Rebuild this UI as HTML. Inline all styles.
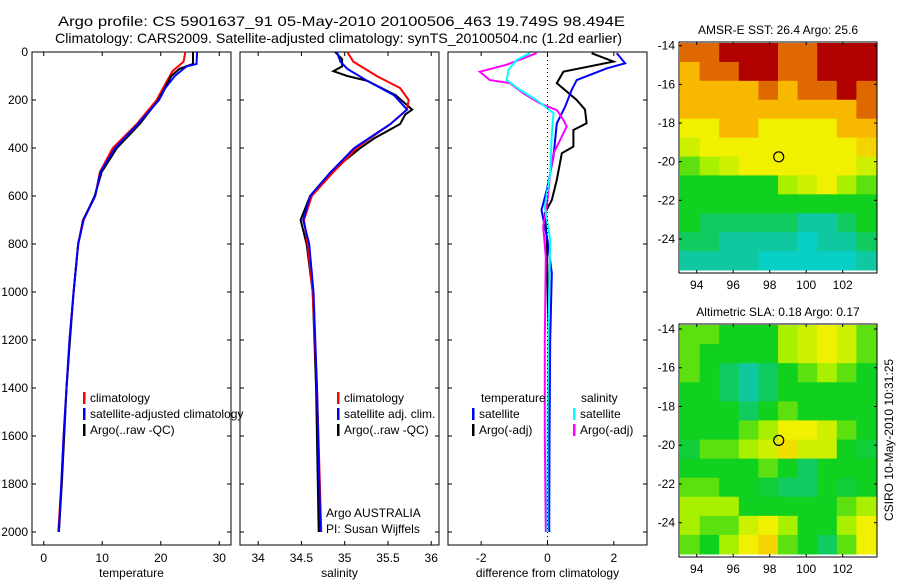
<!DOCTYPE html>
<html><head><meta charset="utf-8"><style>
body{margin:0;background:#fff;}
svg{display:block;font-family:"Liberation Sans",sans-serif;}
text{fill:#000;}
</style></head><body>
<svg id="fig" width="900" height="580" viewBox="0 0 900 580">
<text x="58" y="26" font-size="14" textLength="567" lengthAdjust="spacingAndGlyphs">Argo profile: CS 5901637_91 05-May-2010 20100506_463 19.749S 98.494E</text>
<text x="55" y="43" font-size="14" textLength="567" lengthAdjust="spacingAndGlyphs">Climatology: CARS2009. Satellite-adjusted climatology: synTS_20100504.nc (1.2d earlier)</text>
<g id="g"></g>
</svg>
<script>
// ---------- Data ----------
const depthTicks=[0,200,400,600,800,1000,1200,1400,1600,1800,2000];
const tempTicks=[0,10,20,30];
const salTicks=[34,34.5,35,35.5,36];
const diffTicks=[-2,0,2];
const lonTicks=[94,96,98,100,102];
const latTicks=[-14,-16,-18,-20,-22,-24];

const tClimDepth=[0,40,80,150,200,300,400,500,600,700,800,1000,1200,1400,1600,1800,2000];
const tClimVal=[24.2,23.9,22,20.4,19.3,15.9,11.8,9.6,8.8,6.7,5.9,5.1,4.4,3.9,3.4,3.0,2.5];
const tSatDepth=[0,50,60,100,150,200,300,400,500,600,700,800,1000,1200,1400,1600,1800,2000];
const tSatVal=[26.2,26.1,24.4,22.4,20.8,19.7,16.1,12.2,9.7,8.8,6.8,5.9,5.1,4.4,3.9,3.4,3.0,2.6];
const tArgoDepth=[0,50,70,100,200,300,400,500,600,700,800,1000,1200,1400,1600,1800,2000];
const tArgoVal=[25.5,25.5,23.2,21.8,19.6,16.4,12.5,9.9,8.7,6.8,5.9,5.1,4.5,3.9,3.5,3.1,2.6];

const sClimDepth=[0,40,100,150,200,240,300,350,400,500,600,700,800,1000,1400,2000];
const sClimVal=[35.03,35.10,35.37,35.64,35.74,35.72,35.53,35.33,35.14,34.87,34.62,34.53,34.57,34.63,34.68,34.73];
const sSatDepth=[0,40,70,120,180,240,300,400,500,600,700,800,1000,1400,2000];
const sSatVal=[34.91,34.95,35.03,35.26,35.57,35.72,35.53,35.11,34.84,34.60,34.52,34.59,34.64,34.68,34.72];
const sArgoDepth=[0,30,60,80,100,120,180,240,260,300,360,400,500,600,700,800,1000,1400,2000];
const sArgoVal=[34.89,34.97,34.97,34.87,35.03,35.26,35.59,35.78,35.70,35.64,35.34,35.18,34.84,34.60,34.49,34.56,34.63,34.67,34.70];

const dTSatDepth=[5,47,68,117,158,228,297,436,575,658,783,922,1200,1600,2000];
const dTSatVal=[2.09,2.34,1.79,0.88,0.73,0.53,0.28,0.18,-0.02,-0.18,0,0.13,0.08,0.06,0.05];
const dTArgoDepth=[5,40,82,130,200,240,297,325,394,422,533,617,672,783,1200,1600,2000];
const dTArgoVal=[1.33,1.99,0.48,0.28,0.88,1.13,1.18,0.78,0.78,0.43,0.28,0.13,-0.08,-0.02,0.03,0.03,0.03];
const dSArgoDepth=[5,53,82,117,130,172,214,242,283,311,367,422,505,644,728,853,1200,1600,2000];
const dSArgoVal=[-0.33,-1.23,-2.04,-1.74,-1.13,-0.73,-0.23,0.28,0.48,0.58,0.38,0.18,0.08,-0.02,-0.13,-0.05,-0.08,-0.08,-0.05];
const dSSatDepth=[5,33,75,117,158,200,255,339,505,644,783,1200,1600,2000];
const dSSatVal=[-0.53,-0.93,-1.18,-1.23,-0.83,-0.33,0.18,0.13,0.08,-0.08,0.08,0.02,0.0,0.0];

// map values on colour index scale 0(cyan)..7(dark red)
const sstGrid=[
[6,6,7,7,7,6,6,7,7,7],
[5,6,6,7,7,6,6,7,7,7],
[5,5,5,5,6,5,6,6,7,6],
[5,5,5,5,5,5,5,5,5,6],
[4,4,5,5,4,4,4,4,5,5],
[3.5,4,4,4,4,4,4,4,4,4.5],
[2.5,3,3.5,4,4,4,4,4,4,3.5],
[2,2,2,2,2,3,3.5,4,3,2.5],
[2,2,2,2,2,2,2,2,2,2],
[2,1.5,1.5,1.5,1.5,1.5,1,1,1.5,2],
[1.5,1.5,1,1,1,1,0.5,1,1,1.5],
[1,1,1,1,0.5,0.5,0.5,0.5,0.5,1]];
const slaGrid=[
[2.5,2.5,2,2,2,3,3.5,4,3.5,2.5],
[2.5,2,2,2,2,3,3.5,4,3.5,2.5],
[2.5,2,1.5,1,1.5,2,2.5,3,2.5,2],
[2,2,1.5,1,1.5,2,2,2,2,2],
[2,2,2,1.5,2,2.5,2,2,2,2],
[2,2,2,2.5,3,4,4,3.5,2.5,2],
[1.8,2.5,2.5,3,3.5,4.3,3.5,3.5,2,1.8],
[2,2,2,2,2.5,2,1.5,2,2,2],
[2.5,2.5,2,2,1.8,1.5,1.5,2,1.8,2],
[3,3,3,2,2,2,2,2,2.5,3],
[3,2.5,2.5,3.5,4,3,2,2,3,4],
[2.5,2,3,4,4.5,2.5,2,1.5,2.5,4]];
const argoLon=98.494, argoLat=-19.749;

// ---------- Drawing ----------
const NS='http://www.w3.org/2000/svg';
const G=document.getElementById('g');
function mk(tag,attrs,parent){const e=document.createElementNS(NS,tag);for(const k in attrs)e.setAttribute(k,attrs[k]);(parent||G).appendChild(e);return e;}
function txt(x,y,s,size,anchor,parent){const t=mk('text',{x:x,y:y,'font-size':size||12,'text-anchor':anchor||'start'},parent);t.textContent=s;return t;}

const yTop=52,yBot=545;
function yD(d){return 52+d*0.24;}
const panels=[
 {name:'temperature',x0:32,x1:231,lo:-2,hi:32,ticks:tempTicks,label:'temperature'},
 {name:'salinity',x0:240,x1:439,lo:33.79,hi:36.09,ticks:salTicks,label:'salinity'},
 {name:'difference',x0:448,x1:647,lo:-3,hi:3,ticks:diffTicks,label:'difference from climatology'}];
function xf(p){return v=>p.x0+(v-p.lo)/(p.hi-p.lo)*(p.x1-p.x0);}

panels.forEach((p,i)=>{
  const g=mk('g',{});
  
  
  const fr=mk('rect',{x:p.x0,y:yTop,width:p.x1-p.x0,height:yBot-yTop,fill:'none',stroke:'#000','stroke-width':1},g);
  
  
  const X=xf(p);
  p.ticks.forEach(t=>{
    const x=X(t);
    mk('line',{x1:x,y1:yTop,x2:x,y2:yTop+4,stroke:'#000'},g);
    mk('line',{x1:x,y1:yBot,x2:x,y2:yBot-4,stroke:'#000'},g);
    const tl=txt(x,562,String(t),12,'middle',g);
    
    
  });
  depthTicks.forEach(d=>{
    const y=yD(d);
    mk('line',{x1:p.x0,y1:y,x2:p.x0+4,y2:y,stroke:'#000'},g);
    mk('line',{x1:p.x1,y1:y,x2:p.x1-4,y2:y,stroke:'#000'},g);
    if(i===0){const tl=txt(28,y+4,String(d),12,'end',g);
      
      }
  });
  const xl=txt((p.x0+p.x1)/2,577,p.label,12,'middle',g);
  
  
  p.X=X;p.g=g;
});

function profile(p,depths,vals,color,name){
  const pts=depths.map((d,k)=>p.X(vals[k]).toFixed(1)+','+yD(d).toFixed(1)).join(' ');
  const l=mk('polyline',{points:pts,fill:'none',stroke:color,'stroke-width':2},p.g);
  
  
}
const zx=panels[2].X(0);
const zl=mk('line',{x1:zx,y1:yTop,x2:zx,y2:yBot,stroke:'#000','stroke-dasharray':'1,3'});



profile(panels[0],tClimDepth,tClimVal,'#f00','temperature-climatology-line');
profile(panels[0],tArgoDepth,tArgoVal,'#000','temperature-argo-line');
profile(panels[0],tSatDepth,tSatVal,'#00f','temperature-satellite-line');
profile(panels[1],sArgoDepth,sArgoVal,'#000','salinity-argo-line');
profile(panels[1],sClimDepth,sClimVal,'#f00','salinity-climatology-line');
profile(panels[1],sSatDepth,sSatVal,'#00f','salinity-satellite-line');
profile(panels[2],dTArgoDepth,dTArgoVal,'#000','diff-temp-argo-line');
profile(panels[2],dTSatDepth,dTSatVal,'#00f','diff-temp-satellite-line');
profile(panels[2],dSArgoDepth,dSArgoVal,'#f0f','diff-sal-argo-line');
profile(panels[2],dSSatDepth,dSSatVal,'#0ff','diff-sal-satellite-line');

function legend(x,y,color,label,name){
  const g=mk('g',{});
  
  
  mk('rect',{x:x,y:y-10,width:2.5,height:12,fill:color},g);
  txt(x+7,y,label,12,'start',g);
}
legend(83,402,'#f00','climatology','legend-entry-climatology');
legend(83,418,'#00f','satellite-adjusted climatology','legend-entry-satellite-adjusted');
legend(83,434,'#000','Argo(..raw -QC)','legend-entry-argo');
legend(337,402,'#f00','climatology','legend-entry-sal-climatology');
legend(337,418,'#00f','satellite adj. clim.','legend-entry-sal-satellite');
legend(337,434,'#000','Argo(..raw -QC)','legend-entry-sal-argo');
const lt=txt(481,402,'temperature',12);
const ls=txt(581,402,'salinity',12);
legend(472,418,'#00f','satellite','legend-entry-temp-satellite');
legend(472,434,'#000','Argo(-adj)','legend-entry-temp-argo');
legend(573,418,'#0ff','satellite','legend-entry-sal-sat');
legend(573,434,'#f0f','Argo(-adj)','legend-entry-sal-argo-adj');
const a1=txt(326,517,'Argo AUSTRALIA',12);
const a2=txt(326,533,'PI: Susan Wijffels',12);

const cstops=['#00d8e8','#10c8a0','#10d020','#a8f000','#f0f000','#f8b800','#e06800','#b00000'];
function hex(h){return [1,3,5].map(i=>parseInt(h.substr(i,2),16));}
function cmap(v){v=Math.max(0,Math.min(7,v));const i=Math.min(6,Math.floor(v)),f=v-i;const a=hex(cstops[i]),b=hex(cstops[i+1]);
 return 'rgb('+a.map((c,k)=>Math.round(c+(b[k]-c)*f)).join(',')+')';}
function drawMap(grid,fx0,fy0,fx1,fy1,lat14y,lat24y,title,name){
  const g=mk('g',{});
  
  
  const lonX=lon=>696.7+(lon-94)*18.25;
  const latY=lat=>lat14y+(-14-lat)*(lat24y-lat14y)/10;
  const rows=grid.length,cols=grid[0].length;
  const dx0=fx0+1,dx1=fx1-1,dy0=fy0+1,dy1=fy1-3;
  const cw=(dx1-dx0)/cols,ch=(dy1-dy0)/rows;
  grid.forEach((row,r)=>row.forEach((v,c)=>{
    const cell=mk('rect',{x:dx0+c*cw,y:dy0+r*ch,width:cw+0.5,height:ch+0.5,fill:cmap(v)},g);
    
    
  }));
  mk('rect',{x:fx0,y:fy0,width:fx1-fx0,height:fy1-fy0,fill:'none',stroke:'#000'},g);
  lonTicks.forEach(l=>{const x=lonX(l);
    mk('line',{x1:x,y1:fy0,x2:x,y2:fy0+3,stroke:'#000'},g);
    mk('line',{x1:x,y1:fy1,x2:x,y2:fy1-3,stroke:'#000'},g);
    const t=txt(x,fy1+16,String(l),12,'middle',g);
    
    });
  latTicks.forEach(l=>{const y=latY(l);
    mk('line',{x1:fx0,y1:y,x2:fx0+3,y2:y,stroke:'#000'},g);
    mk('line',{x1:fx1,y1:y,x2:fx1-3,y2:y,stroke:'#000'},g);
    const t=txt(fx0-4,y+4,String(l),12,'end',g);
    
    });
  const c=mk('circle',{cx:lonX(argoLon),cy:latY(argoLat),r:5,fill:'none',stroke:'#000','stroke-width':1.2},g);
  
  
  const tt=txt((fx0+fx1)/2,fy0-8,title,12,'middle',g);
  
  
}
drawMap(sstGrid,679,42,877,273,45.7,239,'AMSR-E SST: 26.4 Argo: 25.6','sst-map');
drawMap(slaGrid,679,324,877,557,329,522.7,'Altimetric SLA: 0.18 Argo: 0.17','sla-map');

const cs=txt(0,0,'CSIRO 10-May-2010 10:31:25',12,'middle');
cs.setAttribute('transform','translate(893,440) rotate(-90)');


</script>
</body></html>
